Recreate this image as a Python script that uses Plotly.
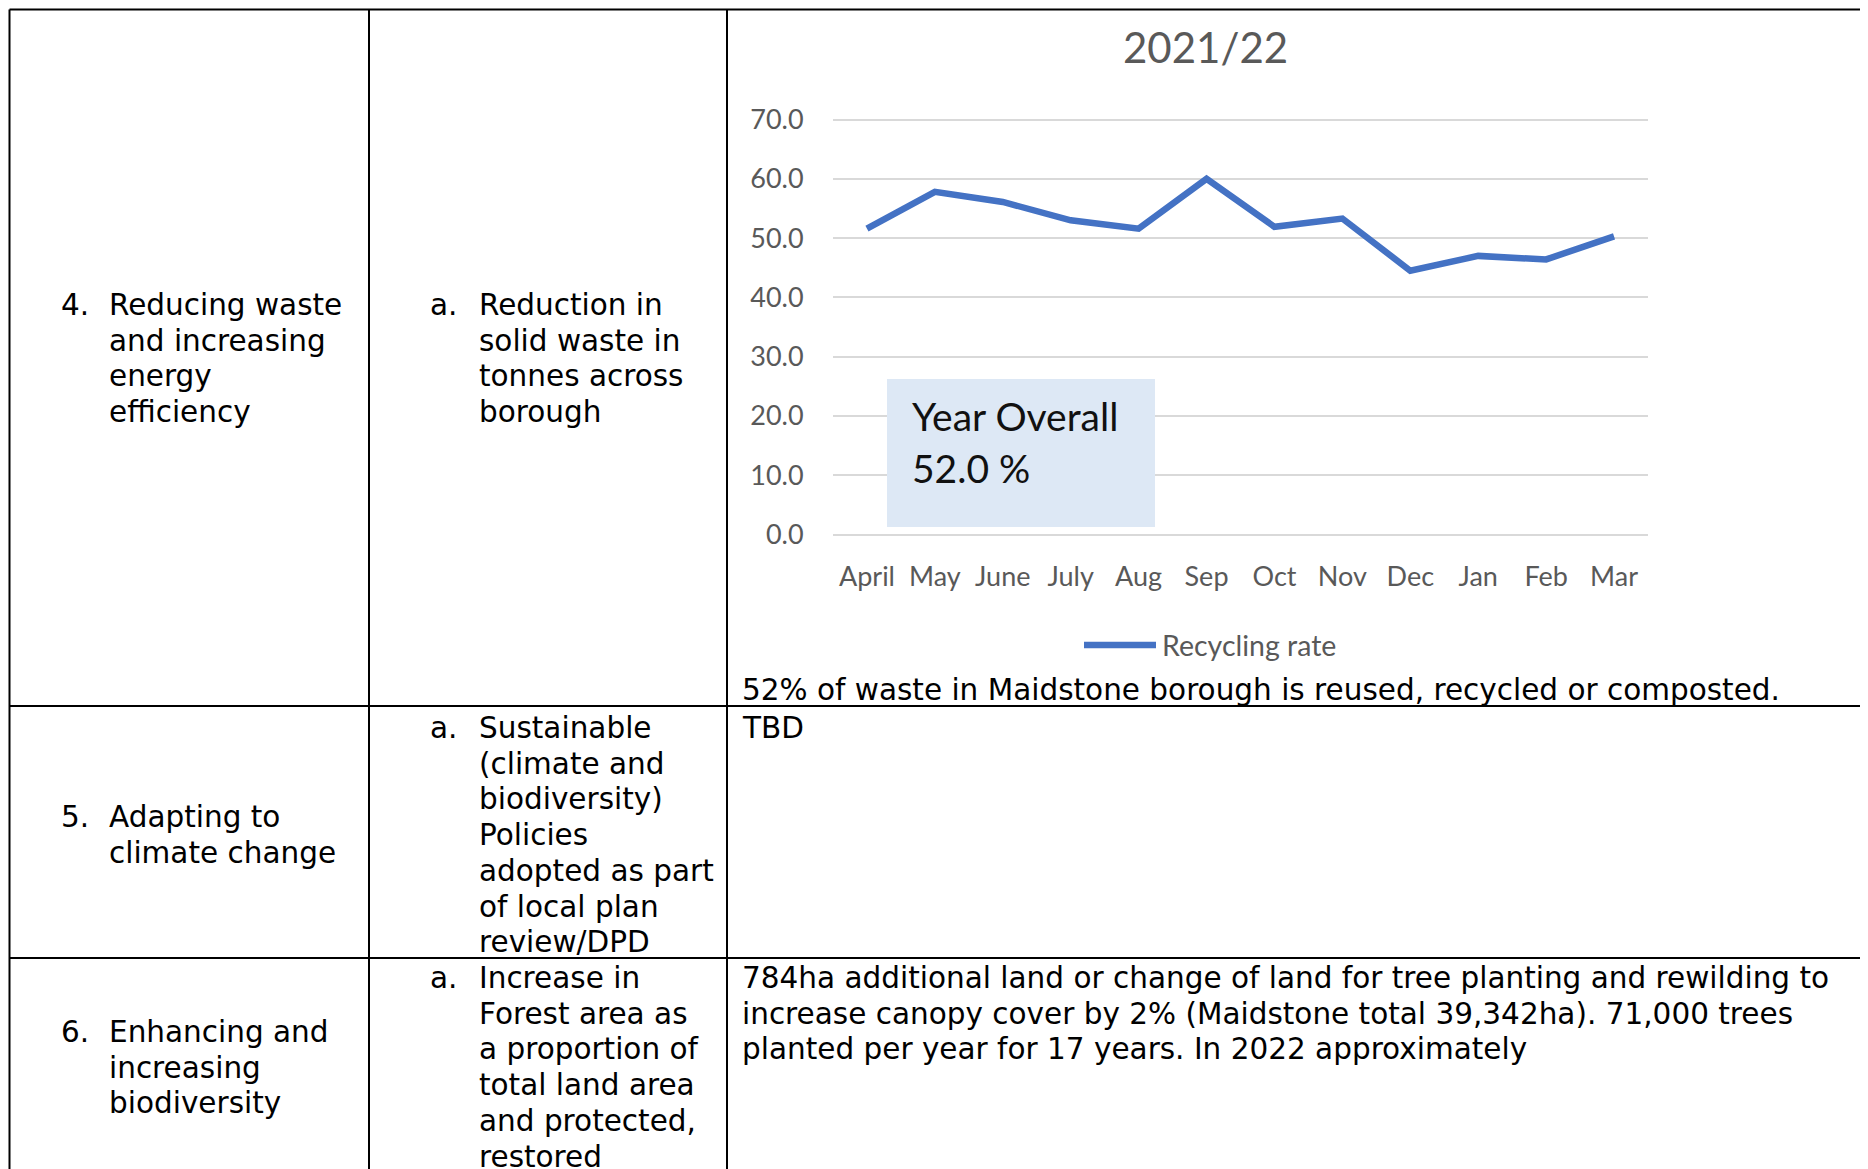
import plotly.graph_objects as go

W, H = 1868, 1169
OFF = 8  # the page body adds an 8 px margin around the figure

# ---------------- data ----------------
months = ["April", "May", "June", "July", "Aug", "Sep", "Oct", "Nov", "Dec", "Jan", "Feb", "Mar"]
recycling_rate = [51.6, 57.8, 56.1, 53.0, 51.6, 60.0, 51.9, 53.3, 44.5, 47.0, 46.4, 50.3]
y_ticks = [0, 10, 20, 30, 40, 50, 60, 70]
chart_title = "2021/22"
series_name = "Recycling rate"
overall_label = "Year Overall"
overall_value = "52.0 %"
caption = "52% of waste in Maidstone borough is reused, recycled or composted."

row4_num, row4_theme = "4.", ["Reducing waste", "and increasing", "energy", "efficiency"]
row4_measure = ["Reduction in", "solid waste in", "tonnes across", "borough"]
row5_num, row5_theme = "5.", ["Adapting to", "climate change"]
row5_measure = ["Sustainable", "(climate and", "biodiversity)", "Policies",
                "adopted as part", "of local plan", "review/DPD"]
row5_result = ["TBD"]
row6_num, row6_theme = "6.", ["Enhancing and", "increasing", "biodiversity"]
row6_measure = ["Increase in", "Forest area as", "a proportion of", "total land area",
                "and protected,", "restored"]
row6_result = ["784ha additional land or change of land for tree planting and rewilding to",
               "increase canopy cover by 2% (Maidstone total 39,342ha). 71,000 trees",
               "planted per year for 17 years. In 2022 approximately"]


def px(x):
    return (x - OFF) / W


def py(y):
    return 1 - (y - OFF) / H


TABLE_FONT = dict(family="DejaVu Sans, Verdana, sans-serif", size=29.5, color="#000000")
CHART_FONT = "Lato, Calibri, sans-serif"
LINE_H = 35.7

fig = go.Figure()

fig.add_trace(go.Scatter(
    x=months, y=recycling_rate, mode="lines", name=series_name,
    line=dict(color="#4472C4", width=6.5), hoverinfo="skip", showlegend=False,
))

annotations = []


def add_lines(lines, x_left, y_first, font=TABLE_FONT):
    for i, t in enumerate(lines):
        annotations.append(dict(
            text=t, x=px(x_left), y=py(y_first + i * LINE_H), xref="paper", yref="paper",
            xanchor="left", yanchor="middle", showarrow=False, font=font, align="left",
        ))


# table cell texts
add_lines([row4_num], 59, 305)
add_lines(row4_theme, 107, 305)
add_lines(["a."], 428, 305)
add_lines(row4_measure, 477, 305)
add_lines([caption], 740, 690)

add_lines([row5_num], 59, 817)
add_lines(row5_theme, 107, 817)
add_lines(["a."], 428, 728)
add_lines(row5_measure, 477, 728)
add_lines(row5_result, 740, 728)

add_lines([row6_num], 59, 1032)
add_lines(row6_theme, 107, 1032)
add_lines(["a."], 428, 978)
add_lines(row6_measure, 477, 978)
add_lines(row6_result, 740, 978)

# chart title
annotations.append(dict(text=chart_title, x=px(1205), y=py(47), xref="paper", yref="paper",
                        xanchor="center", yanchor="middle", showarrow=False,
                        font=dict(family=CHART_FONT, size=42, color="#595959")))

# overall box text
box_font = dict(family=CHART_FONT, size=39, color="#111111")
annotations.append(dict(text=overall_label, x=px(910), y=py(416), xref="paper", yref="paper",
                        xanchor="left", yanchor="middle", showarrow=False, font=box_font))
annotations.append(dict(text=overall_value, x=px(910), y=py(468), xref="paper", yref="paper",
                        xanchor="left", yanchor="middle", showarrow=False, font=box_font))

# legend text
annotations.append(dict(text=series_name, x=px(1160), y=py(645), xref="paper", yref="paper",
                        xanchor="left", yanchor="middle", showarrow=False,
                        font=dict(family=CHART_FONT, size=28.5, color="#595959")))

shapes = []
line_style = dict(color="#000000", width=2)
TOP = 9.5
# table borders
shapes.append(dict(type="line", xref="paper", yref="paper", x0=px(9.5), x1=1, y0=py(TOP), y1=py(TOP), line=line_style))
for xv in [9.5, 369, 727]:
    shapes.append(dict(type="line", xref="paper", yref="paper", x0=px(xv), x1=px(xv), y0=py(TOP), y1=0, line=line_style))
for yv in [706, 958]:
    shapes.append(dict(type="line", xref="paper", yref="paper", x0=px(9.5), x1=1, y0=py(yv), y1=py(yv), line=line_style))

# overall box
shapes.append(dict(type="rect", xref="paper", yref="paper", x0=px(887), x1=px(1155), y0=py(527), y1=py(379),
                   fillcolor="#DDE8F5", line=dict(width=0), layer="above"))
# legend key
shapes.append(dict(type="line", xref="paper", yref="paper", x0=px(1084), x1=px(1156), y0=py(645), y1=py(645),
                   line=dict(color="#4472C4", width=6.5)))

fig.update_layout(
    width=W, height=H, margin=dict(l=0, r=0, t=0, b=0, pad=0, autoexpand=False),
    paper_bgcolor="white", plot_bgcolor="white",
    xaxis=dict(domain=[px(833), px(1648)], type="category", range=[-0.5, 11.5],
               showgrid=False, zeroline=False, showline=False, automargin=False,
               ticks="outside", ticklen=12, tickcolor="rgba(0,0,0,0)",
               tickfont=dict(family=CHART_FONT, size=27, color="#595959")),
    yaxis=dict(domain=[py(540.53), py(113.57)], range=[-1, 71],
               tickvals=y_ticks, tickformat=".1f", automargin=False,
               showgrid=True, gridcolor="#D9D9D9", gridwidth=2,
               zeroline=False, showline=False,
               ticks="outside", ticklen=23, tickcolor="rgba(0,0,0,0)",
               tickfont=dict(family=CHART_FONT, size=27, color="#595959")),
    annotations=annotations, shapes=shapes, showlegend=False,
)

fig.write_html("out.html")
